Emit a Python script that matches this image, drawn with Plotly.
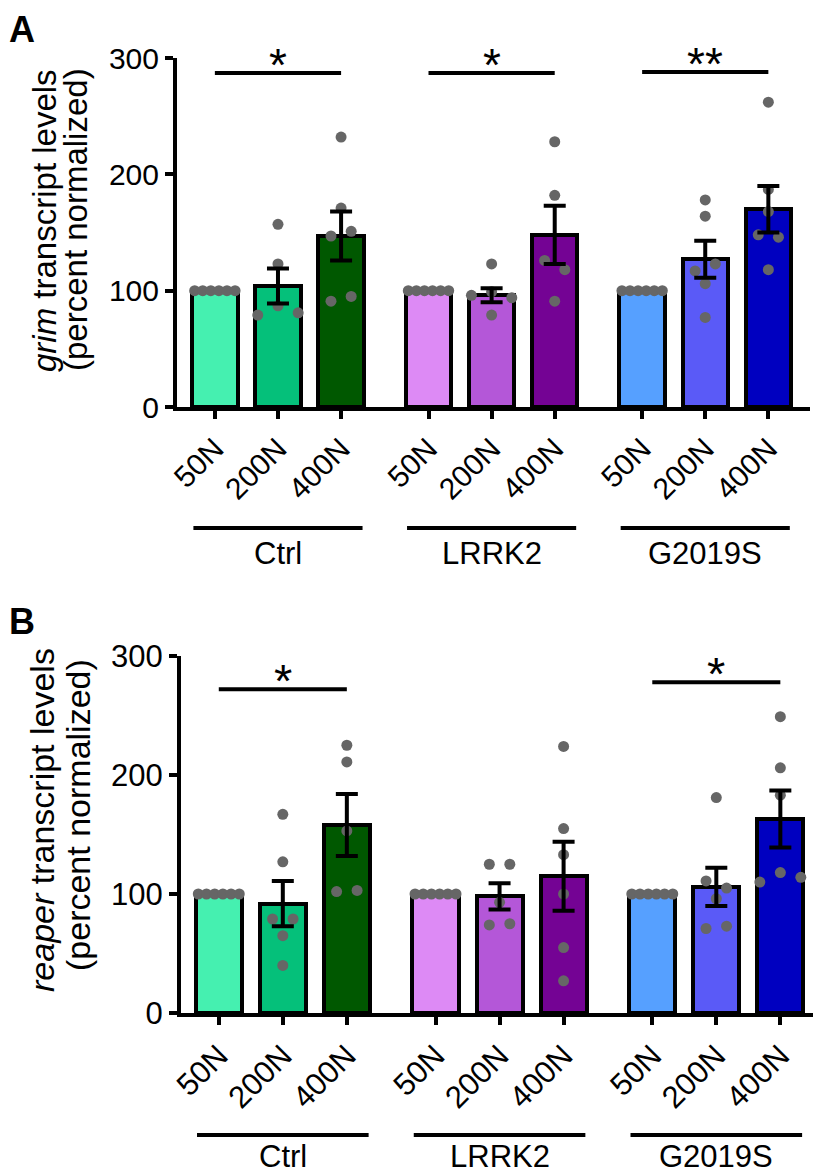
"""
grim / reaper transcript levels - bar + dot plot, two panels
"""

import plotly.graph_objects as go

W, H = 826, 1176
OFF = 8  # default body margin of the html page

groups = ["Ctrl", "LRRK2", "G2019S"]
doses = ["50N", "200N", "400N"]

bar_colors = ["#45f0b0", "#05c07a", "#005800",
              "#dd8af5", "#b457d8", "#740394",
              "#56a0ff", "#5a5af7", "#0000c0"]

# panel A - grim
grim_mean = [100, 104, 147, 100, 96, 148, 100, 127, 170]
grim_sem = [0, 15, 21, 0, 6, 25, 0, 16, 20]
grim_dots = [
    [100, 100, 100, 100, 100, 100],
    [157, 123, 79, 87, 81],
    [232, 171, 147, 151, 91, 95],
    [100, 100, 100, 100, 100, 100],
    [123, 96, 99, 94, 79],
    [228, 182, 126, 118, 91],
    [100, 100, 100, 100, 100, 100],
    [178, 164, 117, 123, 106, 77],
    [262, 187, 168, 148, 146, 118],
]
grim_sig_groups = [0, 1, 2]
grim_sig_text = ["*", "*", "**"]
grim_sig_y = [287, 287, 288]

# panel B - reaper
reaper_mean = [100, 92, 158, 100, 98, 115, 100, 106, 163]
reaper_sem = [0, 19, 26, 0, 11, 29, 0, 16, 24]
reaper_dots = [
    [100, 100, 100, 100, 100, 100],
    [167, 127, 79, 79, 65, 40],
    [225, 211, 153, 102, 103],
    [100, 100, 100, 100, 100, 100],
    [125, 125, 93, 74, 75],
    [224, 155, 133, 100, 55, 27],
    [100, 100, 100, 100, 100, 100],
    [181, 111, 105, 96, 71, 73],
    [249, 206, 183, 110, 118, 114],
]
reaper_sig_groups = [0, 2]
reaper_sig_text = ["*", "*"]
reaper_sig_y = [272, 278]

yticks = [0, 100, 200, 300]

GAP = 1.385     # extra space between groups (category units)
BAR_W = 0.72
FONT = "Liberation Sans, Arial, sans-serif"


def px_x(p):
    return (p - OFF) / (W - OFF)


def px_y(p):
    return 1 - (p - OFF) / (H - OFF)


def bar_positions():
    return [g * (2 + GAP) + j for g in range(len(groups)) for j in range(len(doses))]


def dot_offsets(vals, tol=9, max_step=0.32, spread=0.64):
    # put dots of similar value side by side, centred on the bar
    rows = []
    for i, v in enumerate(vals):
        for r in rows:
            if abs(v - vals[r[0]]) <= tol:
                r.append(i)
                break
        else:
            rows.append([i])
    offs = [0.0] * len(vals)
    for r in rows:
        n = len(r)
        if n == 1:
            continue
        step = min(max_step, spread / (n - 1))
        for k, i in enumerate(r):
            offs[i] = (k - (n - 1) / 2) * step
    return offs


def add_panel(fig, idx, means, sems, dots, sig_groups, sig_text, sig_y,
              gene, box, xrange, title_pos, group_line_y, group_text_y, scale=1.0):
    xa = "x" if idx == 1 else "x%d" % idx
    ya = "y" if idx == 1 else "y%d" % idx
    pos = bar_positions()

    fig.add_trace(go.Bar(
        x=pos, y=means, width=BAR_W, xaxis=xa, yaxis=ya,
        marker=dict(color=bar_colors, line=dict(color="black", width=4)),
        showlegend=False, hoverinfo="skip"))

    dx, dy = [], []
    for p, vals in zip(pos, dots):
        for o, v in zip(dot_offsets(vals), vals):
            dx.append(p + o)
            dy.append(v)
    fig.add_trace(go.Scatter(
        x=dx, y=dy, mode="markers", xaxis=xa, yaxis=ya,
        marker=dict(size=11, color="#666666"), showlegend=False, cliponaxis=False))

    ex = [p for p, s in zip(pos, sems) if s > 0]
    ey = [m for m, s in zip(means, sems) if s > 0]
    es = [s for s in sems if s > 0]
    fig.add_trace(go.Scatter(
        x=ex, y=ey, mode="markers", xaxis=xa, yaxis=ya,
        marker=dict(size=2, color="rgba(0,0,0,0)"),
        error_y=dict(type="data", array=es, color="black", thickness=4, width=11),
        showlegend=False))

    x0, x1, y0, y1 = box
    axis_common = dict(showline=True, linewidth=4, linecolor="black",
                       ticks="outside", ticklen=8, tickwidth=4, tickcolor="black",
                       showgrid=False, zeroline=False, automargin=False,
                       tickfont=dict(family=FONT, size=round(30 * scale), color="black"))
    fig.update_layout(**{
        ("xaxis" if idx == 1 else "xaxis%d" % idx): dict(
            domain=[px_x(x0), px_x(x1)], range=xrange, anchor=ya,
            tickvals=pos, ticktext=doses * len(groups), tickangle=-45, **axis_common),
        ("yaxis" if idx == 1 else "yaxis%d" % idx): dict(
            domain=[px_y(y0), px_y(y1)], range=[0, 300], anchor=xa,
            tickvals=yticks, **axis_common),
    })

    # significance bars
    for g, t, yv in zip(sig_groups, sig_text, sig_y):
        a = pos[g * 3]
        b = pos[g * 3 + 2]
        fig.add_shape(type="line", xref=xa, yref=ya, x0=a, x1=b, y0=yv, y1=yv,
                      line=dict(color="black", width=4))
        fig.add_annotation(x=(a + b) / 2, y=yv, xref=xa, yref=ya, text=t,
                           showarrow=False, yanchor="bottom", yshift=-20,
                           font=dict(family=FONT, size=round(46 * scale), color="black"))

    # group labels under the axis
    for g, name in enumerate(groups):
        c = pos[g * 3 + 1]
        fig.add_shape(type="line", xref=xa, yref="paper", x0=c - 1.34, x1=c + 1.34,
                      y0=px_y(group_line_y), y1=px_y(group_line_y),
                      line=dict(color="black", width=4))
        fig.add_annotation(x=c, y=px_y(group_text_y), xref=xa, yref="paper",
                           text=name, showarrow=False, yanchor="middle",
                           font=dict(family=FONT, size=31, color="black"))

    # y title, two lines
    (t1x, t1y, t2x, t2y) = title_pos
    fig.add_annotation(x=px_x(t1x), y=px_y(t1y), xref="paper", yref="paper",
                       text="<i>%s</i> transcript levels" % gene, textangle=-90,
                       showarrow=False, xanchor="center", yanchor="middle",
                       font=dict(family=FONT, size=round(33 * scale), color="black"))
    fig.add_annotation(x=px_x(t2x), y=px_y(t2y), xref="paper", yref="paper",
                       text="(percent normalized)", textangle=-90,
                       showarrow=False, xanchor="center", yanchor="middle",
                       font=dict(family=FONT, size=round(33 * scale), color="black"))


def main():
    fig = go.Figure()

    add_panel(fig, 1, grim_mean, grim_sem, grim_dots,
              grim_sig_groups, grim_sig_text, grim_sig_y, "grim",
              box=(177, 810, 407, 58), xrange=[-0.6, 9.43],
              title_pos=(44, 221, 76, 220), group_line_y=528, group_text_y=553)

    add_panel(fig, 2, reaper_mean, reaper_sem, reaper_dots,
              reaper_sig_groups, reaper_sig_text, reaper_sig_y, "reaper",
              box=(181, 813, 1013, 656), xrange=[-0.59, 9.28],
              title_pos=(42, 820, 78, 815), group_line_y=1135, group_text_y=1156, scale=1.02)

    # panel letters
    fig.add_annotation(x=0, y=1, xref="paper", yref="paper", text="<b>A</b>",
                       showarrow=False, xanchor="left", yanchor="top", borderpad=0,
                       font=dict(family=FONT, size=36, color="black"))
    fig.add_annotation(x=0, y=px_y(621), xref="paper", yref="paper", text="<b>B</b>",
                       showarrow=False, xanchor="left", yanchor="middle", borderpad=0,
                       font=dict(family=FONT, size=36, color="black"))

    fig.update_layout(width=W - OFF, height=H - OFF,
                      margin=dict(l=0, r=0, t=0, b=0, pad=0, autoexpand=False),
                      plot_bgcolor="white", paper_bgcolor="white",
                      bargap=0, showlegend=False)

    fig.write_html("out.html")
    print("saved out.html")


if __name__ == "__main__":
    main()
